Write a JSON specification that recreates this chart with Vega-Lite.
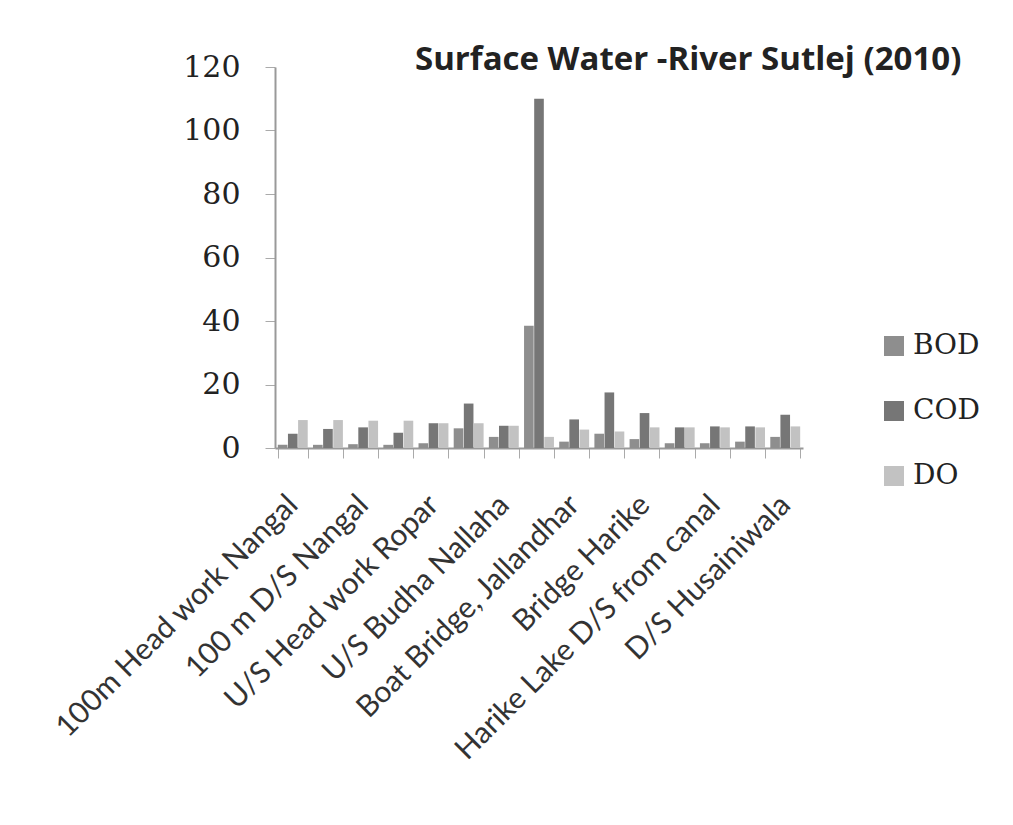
{
  "$schema": "https://vega.github.io/schema/vega-lite/v6.json",
  "autosize": {"type": "none"},
  "width": 528,
  "height": 381,
  "padding": {"left": 275, "top": 67, "right": 210, "bottom": 377},
  "background": "white",
  "title": {
    "text": "Surface Water  -River Sutlej (2010)",
    "font": "Open Sans",
    "fontSize": 33,
    "fontWeight": "bold",
    "color": "#222222",
    "anchor": "start",
    "frame": "group",
    "dx": 140,
    "dy": 27,
    "offset": 2
  },
  "data": {
    "values": [
      {"site": "100m  Head work Nangal", "param": "BOD", "value": 1.0},
      {"site": "100m  Head work Nangal", "param": "COD", "value": 4.5},
      {"site": "100m  Head work Nangal", "param": "DO", "value": 8.8},
      {"site": "D/S Nangal", "param": "BOD", "value": 1.0},
      {"site": "D/S Nangal", "param": "COD", "value": 6.0},
      {"site": "D/S Nangal", "param": "DO", "value": 8.8},
      {"site": "100 m D/S Nangal", "param": "BOD", "value": 1.2},
      {"site": "100 m D/S Nangal", "param": "COD", "value": 6.5},
      {"site": "100 m D/S Nangal", "param": "DO", "value": 8.6},
      {"site": "Head work Ropar", "param": "BOD", "value": 1.0},
      {"site": "Head work Ropar", "param": "COD", "value": 4.8},
      {"site": "Head work Ropar", "param": "DO", "value": 8.6},
      {"site": "U/S Head work Ropar", "param": "BOD", "value": 1.5},
      {"site": "U/S Head work Ropar", "param": "COD", "value": 7.8},
      {"site": "U/S Head work Ropar", "param": "DO", "value": 7.8},
      {"site": "D/S Head work Ropar", "param": "BOD", "value": 6.2},
      {"site": "D/S Head work Ropar", "param": "COD", "value": 14.0},
      {"site": "D/S Head work Ropar", "param": "DO", "value": 7.8},
      {"site": "U/S Budha Nallaha", "param": "BOD", "value": 3.5},
      {"site": "U/S Budha Nallaha", "param": "COD", "value": 7.0},
      {"site": "U/S Budha Nallaha", "param": "DO", "value": 7.0},
      {"site": "D/S Budha Nallaha", "param": "BOD", "value": 38.5},
      {"site": "D/S Budha Nallaha", "param": "COD", "value": 110.0},
      {"site": "D/S Budha Nallaha", "param": "DO", "value": 3.5},
      {"site": "Boat Bridge, Jallandhar", "param": "BOD", "value": 2.0},
      {"site": "Boat Bridge, Jallandhar", "param": "COD", "value": 9.0},
      {"site": "Boat Bridge, Jallandhar", "param": "DO", "value": 5.8},
      {"site": "D/S East Bein", "param": "BOD", "value": 4.5},
      {"site": "D/S East Bein", "param": "COD", "value": 17.5},
      {"site": "D/S East Bein", "param": "DO", "value": 5.2},
      {"site": "Bridge Harike", "param": "BOD", "value": 2.8},
      {"site": "Bridge Harike", "param": "COD", "value": 11.0},
      {"site": "Bridge Harike", "param": "DO", "value": 6.5},
      {"site": "Harike Lake", "param": "BOD", "value": 1.5},
      {"site": "Harike Lake", "param": "COD", "value": 6.5},
      {"site": "Harike Lake", "param": "DO", "value": 6.5},
      {"site": "Harike Lake D/S from canal", "param": "BOD", "value": 1.5},
      {"site": "Harike Lake D/S from canal", "param": "COD", "value": 6.8},
      {"site": "Harike Lake D/S from canal", "param": "DO", "value": 6.5},
      {"site": "U/S Husainiwala", "param": "BOD", "value": 2.0},
      {"site": "U/S Husainiwala", "param": "COD", "value": 6.8},
      {"site": "U/S Husainiwala", "param": "DO", "value": 6.5},
      {"site": "D/S Husainiwala", "param": "BOD", "value": 3.5},
      {"site": "D/S Husainiwala", "param": "COD", "value": 10.5},
      {"site": "D/S Husainiwala", "param": "DO", "value": 6.8}
    ]
  },
  "mark": {"type": "bar"},
  "encoding": {
    "x": {
      "field": "site",
      "type": "nominal",
      "sort": null,
      "title": null,
      "scale": {"paddingInner": 0.15, "paddingOuter": 0.08},
      "axis": {
        "labelAngle": -45,
        "labelAlign": "right",
        "labelBaseline": "middle",
        "labelFont": "Lato",
        "labelFontSize": 30,
        "labelColor": "#333333",
        "labelPadding": 42,
        "labelOverlap": false,
        "labelLimit": 0,
        "tickBand": "extent",
        "tickSize": 10,
        "tickColor": "#aaaaaa",
        "domainColor": "#999999",
        "domainWidth": 2,
        "labelExpr": "indexof(['D/S Nangal','Head work Ropar','D/S Head work Ropar','D/S Budha Nallaha','D/S East Bein','Harike Lake','U/S Husainiwala'], datum.value) >= 0 ? '' : datum.label"
      }
    },
    "xOffset": {"field": "param", "type": "nominal", "scale": {"paddingInner": 0.05}},
    "y": {
      "field": "value",
      "type": "quantitative",
      "title": null,
      "scale": {"domain": [0, 120], "nice": false},
      "axis": {
        "values": [0, 20, 40, 60, 80, 100, 120],
        "grid": false,
        "labelFont": "DejaVu Serif",
        "labelFontSize": 30,
        "labelColor": "#222222",
        "labelPadding": 25,
        "tickSize": 10,
        "tickColor": "#aaaaaa",
        "domainColor": "#999999",
        "domainWidth": 2
      }
    },
    "color": {
      "field": "param",
      "type": "nominal",
      "scale": {"domain": ["BOD", "COD", "DO"], "range": ["#8e8e8e", "#767676", "#c2c2c2"]},
      "legend": {
        "title": null,
        "orient": "none",
        "legendX": 605,
        "legendY": 265,
        "symbolType": "square",
        "symbolSize": 400,
        "symbolStrokeWidth": 0,
        "labelFont": "DejaVu Serif",
        "labelFontSize": 28,
        "labelColor": "#222222",
        "labelOffset": 5,
        "rowPadding": 37,
        "padding": 0
      }
    }
  },
  "config": {"view": {"stroke": null}}
}
